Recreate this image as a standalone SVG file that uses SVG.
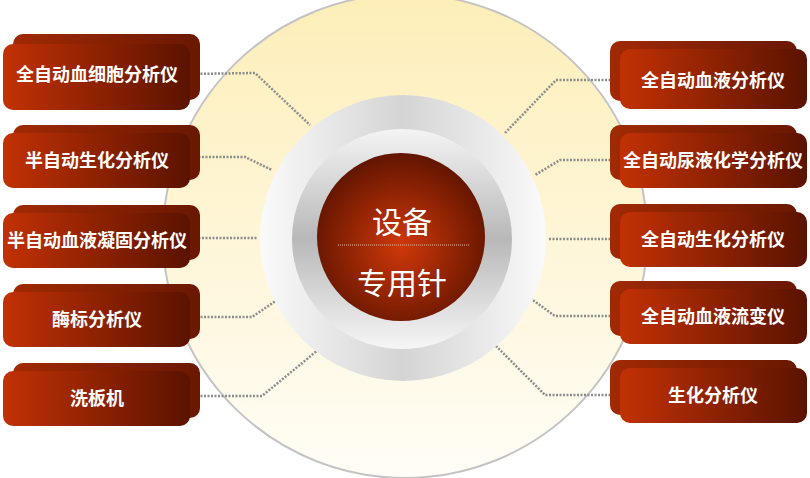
<svg xmlns="http://www.w3.org/2000/svg" width="810" height="478" viewBox="0 0 810 478">
<defs>
<linearGradient id="bg" x1="0" y1="0" x2="0" y2="1"><stop offset="0" stop-color="#fdeeb8"/><stop offset="1" stop-color="#fffdf6"/></linearGradient>
<linearGradient id="ring1" x1="0" y1="0" x2="1" y2="0"><stop offset="0" stop-color="#fafafa"/><stop offset="0.5" stop-color="#d4d4d4"/><stop offset="1" stop-color="#fafafa"/></linearGradient>
<linearGradient id="ring2" x1="0" y1="0" x2="0" y2="1"><stop offset="0" stop-color="#f4f4f4"/><stop offset="0.5" stop-color="#b8b8b8"/><stop offset="1" stop-color="#f6f6f6"/></linearGradient>
<radialGradient id="core" cx="0.5" cy="0.55" r="0.55"><stop offset="0" stop-color="#d0380a"/><stop offset="1" stop-color="#621500"/></radialGradient>
<linearGradient id="face" x1="0" y1="0" x2="1" y2="0"><stop offset="0" stop-color="#c23105"/><stop offset="1" stop-color="#5a1300"/></linearGradient>
<linearGradient id="back" x1="0" y1="0" x2="1" y2="0"><stop offset="0" stop-color="#a02a04"/><stop offset="1" stop-color="#6a1800"/></linearGradient>
</defs>
<style>
.c{fill:none;stroke:#8c8c8c;stroke-width:2.5;stroke-dasharray:2 1.5}
.t{font-family:"Noto Sans CJK SC",sans-serif;font-weight:bold;font-size:18px;fill:#fff;text-anchor:middle}
.ct{font-family:"Noto Sans CJK SC",sans-serif;font-size:30px;fill:#fff;text-anchor:middle}
</style>
<circle cx="405" cy="236" r="242" fill="url(#bg)" stroke="#c4c4c4" stroke-width="2"/>
<g id="connectors">
<polyline class="c" points="190,74 255,73 310,125"/>
<polyline class="c" points="195,157 245,157 272,170"/>
<polyline class="c" points="195,238 258,238"/>
<polyline class="c" points="197,317 252,317 277,300"/>
<polyline class="c" points="197,396 262,396 318,350"/>
<polyline class="c" points="614,80 556,80 505,133"/>
<polyline class="c" points="614,160 560,160 535,175"/>
<polyline class="c" points="614,239 548,239"/>
<polyline class="c" points="614,316 555,316 530,298"/>
<polyline class="c" points="614,395 545,395 495,345"/>
</g>
<g id="center">
<circle cx="403" cy="238" r="143" fill="url(#ring1)"/>
<circle cx="402" cy="239" r="110" fill="url(#ring2)"/>
<circle cx="401" cy="237" r="84" fill="url(#core)"/>
<line x1="338" y1="245" x2="469" y2="245" stroke="#e8b9a0" stroke-width="1" stroke-dasharray="1 1"/>
<text class="ct" x="402" y="233">设备</text>
<text class="ct" x="402" y="294">专用针</text>
</g>
<g id="L1"><rect x="13" y="34" width="187" height="66" rx="10" fill="url(#back)"/><rect x="3" y="44" width="187" height="66" rx="10" fill="url(#face)"/><text class="t" x="97" y="81">全自动血细胞分析仪</text></g>
<g id="L2"><rect x="13" y="125" width="187" height="55" rx="10" fill="url(#back)"/><rect x="3" y="133" width="187" height="55" rx="10" fill="url(#face)"/><text class="t" x="97" y="167">半自动生化分析仪</text></g>
<g id="L3"><rect x="13" y="205" width="187" height="55" rx="10" fill="url(#back)"/><rect x="3" y="213" width="187" height="55" rx="10" fill="url(#face)"/><text class="t" x="97" y="247">半自动血液凝固分析仪</text></g>
<g id="L4"><rect x="13" y="284" width="187" height="55" rx="10" fill="url(#back)"/><rect x="3" y="292" width="187" height="55" rx="10" fill="url(#face)"/><text class="t" x="97" y="326">酶标分析仪</text></g>
<g id="L5"><rect x="13" y="363" width="187" height="55" rx="10" fill="url(#back)"/><rect x="3" y="371" width="187" height="55" rx="10" fill="url(#face)"/><text class="t" x="97" y="405">洗板机</text></g>
<g id="R1"><rect x="610" y="41" width="187" height="60" rx="10" fill="url(#back)"/><rect x="620" y="49" width="187" height="60" rx="10" fill="url(#face)"/><text class="t" x="713" y="87">全自动血液分析仪</text></g>
<g id="R2"><rect x="610" y="125" width="187" height="55" rx="10" fill="url(#back)"/><rect x="620" y="133" width="187" height="55" rx="10" fill="url(#face)"/><text class="t" x="713" y="167">全自动尿液化学分析仪</text></g>
<g id="R3"><rect x="610" y="204" width="187" height="55" rx="10" fill="url(#back)"/><rect x="620" y="212" width="187" height="55" rx="10" fill="url(#face)"/><text class="t" x="713" y="246">全自动生化分析仪</text></g>
<g id="R4"><rect x="610" y="281" width="187" height="55" rx="10" fill="url(#back)"/><rect x="620" y="289" width="187" height="55" rx="10" fill="url(#face)"/><text class="t" x="713" y="323">全自动血液流变仪</text></g>
<g id="R5"><rect x="610" y="360" width="187" height="55" rx="10" fill="url(#back)"/><rect x="620" y="368" width="187" height="55" rx="10" fill="url(#face)"/><text class="t" x="713" y="402">生化分析仪</text></g>
</svg>
